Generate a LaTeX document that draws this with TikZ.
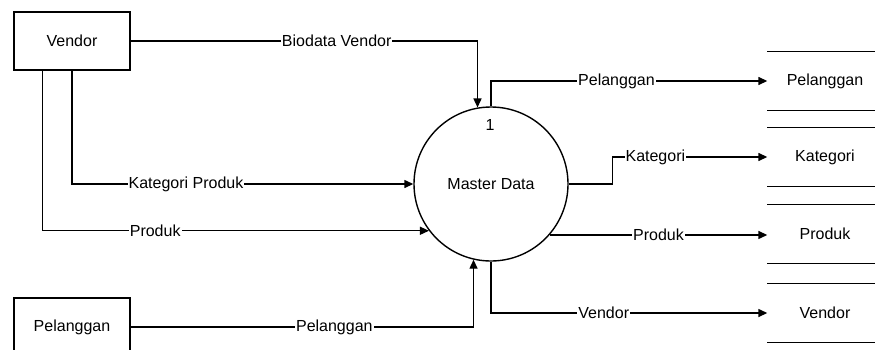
\documentclass[tikz,border=0pt]{standalone}
\usepackage{fontspec}
\setmainfont{Liberation Sans}
\usetikzlibrary{arrows.meta}

\begin{document}
\begin{tikzpicture}[x=1pt,y=-1pt,font=\fontsize{16}{19}\selectfont,line width=1.4pt,
  entity/.style={shape=rectangle,draw=black,minimum width=116pt,minimum height=58pt},
  process/.style={shape=circle,draw=black,minimum size=154pt},
  store/.style={minimum width=114pt,minimum height=58pt},
  flow/.style={-{Triangle[length=9pt,width=8pt]}},
  lbl/.style={fill=white,inner sep=1pt}]
\useasboundingbox (0,0) rectangle (875,349);

\node[entity] (V) at (72,41) {Vendor};
\node[entity] (P) at (72,327) {Pelanggan};
\node[process] (MD) at (491,184) {Master Data};
\node (N) at (490,125) {1};
\node[store] (SP) at (825,81) {Pelanggan};
\node[store] (SK) at (825,157) {Kategori};
\node[store] (SR) at (825,234) {Produk};
\node[store] (SV) at (825,313) {Vendor};

\foreach \s in {SP,SK,SR,SV}
  \draw (\s.north west) -- (\s.north east) (\s.south west) -- (\s.south east);

\draw[flow] (V.east) -| node[lbl,pos=0.297] {Biodata Vendor} (MD.100);
\draw[flow] (V.south) |- node[lbl,pos=0.667] {Kategori Produk} (MD.west);
\draw[flow] (V.225) |- node[lbl,pos=0.646] {Produk} (MD.217);
\draw[flow] (P.east) -| node[lbl,pos=0.297] {Pelanggan} (MD.257);

\draw[flow] (MD.north) |- node[lbl,pos=0.727] {Pelanggan} (SP.west);
\draw[flow] (MD.east) -- ++(44,0) |- node[lbl,pos=0.638] {Kategori} (SK.west);
\draw[flow] (MD.-41) -- node[lbl] {Produk} (MD.-41 -| SR.west);
\draw[flow] (MD.south) |- node[lbl,pos=0.704] {Vendor} (SV.west);

\end{tikzpicture}
\end{document}
